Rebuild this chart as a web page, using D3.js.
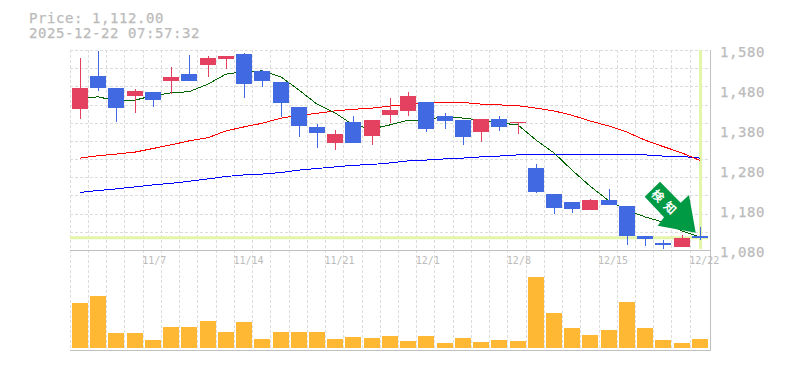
<!DOCTYPE html>
<html><head><meta charset="utf-8">
<script src="https://cdnjs.cloudflare.com/ajax/libs/d3/7.8.5/d3.min.js"></script>
<style>
html,body{margin:0;padding:0;background:#fff;overflow:hidden}
svg{display:block}
text{font-family:"DejaVu Sans Mono",monospace}
</style></head><body><div id="chart"></div>
<script>
const titleLines=["Price: 1,112.00","2025-12-22 07:57:32"];
const lastPrice=1112;
const opens =[1434,1516,1486,1466,1476,1504,1521,1544,1559,1571,1529,1501,1439,1389,1349,1401,1366,1419,1429,1451,1416,1406,1376,1409,1399,1286,1221,1201,1181,1206,1191,1116,1099,1089,1116];
const closes=[1486,1486,1436,1479,1456,1514,1504,1561,1566,1496,1504,1449,1391,1374,1371,1349,1406,1431,1466,1384,1404,1364,1409,1389,1401,1226,1186,1184,1206,1194,1116,1109,1094,1111,1112];
const highs =[1561,1580,1486,1484,1476,1539,1569,1566,1566,1574,1531,1501,1439,1396,1381,1416,1406,1461,1476,1451,1424,1406,1409,1416,1401,1296,1221,1201,1209,1234,1191,1116,1106,1119,1139];
const lows  =[1409,1479,1402,1424,1439,1471,1504,1514,1534,1461,1489,1414,1364,1336,1331,1349,1344,1399,1416,1376,1384,1344,1351,1379,1371,1224,1171,1174,1181,1194,1094,1091,1084,1089,1106];
const maShort=[1461,1464,1455,1456,1467,1474,1477,1496,1521,1527,1529,1514,1481,1446,1424,1394,1384,1394,1406,1406,1416,1411,1406,1399,1394,1356,1324,1281,1241,1204,1181,1164,1151,1129,1114];
const maMid  =[1311,1317,1321,1326,1335,1344,1354,1362,1379,1389,1398,1411,1418,1423,1429,1433,1436,1441,1446,1450,1451,1450,1446,1444,1442,1436,1429,1418,1404,1391,1376,1356,1340,1324,1305];
const maLong =[1225,1230,1234,1239,1244,1248,1253,1259,1265,1269,1271,1275,1281,1285,1289,1293,1295,1299,1304,1306,1309,1311,1314,1316,1319,1321,1321,1321,1321,1320,1319,1319,1316,1315,1311];
const volumes=[45,52,15,15,8,21,21,27,16,26,9,16,16,16,9,11,10,12,7,12,5,10,6,8,7,71,35,20,13,18,46,20,8,5,9];
const dateLabels={4:"11/7",9:"11/14",14:"11/21",19:"12/1",24:"12/8",29:"12/15",34:"12/22"};
const priceTicks=[1080,1180,1280,1380,1480,1580];
const arrowShape=[[-35.7,-51],[-51,-36],[-31.7,-15.4],[-38,-7],[0,0],[-6.7,-37.7],[-15,-30]];
const arrowLabel="検知";

const W=785,H=370;
const C={red:"#e4405f",blue:"#4169e1",vol:"#ffb833",axis:"#c0c0c0",grid:"#dcdcdc",text:"#bbbbbb",lime:"#e3f5a9",arrow:"#009944"};
const idx=d3.range(opens.length);
const x=d3.scaleBand().domain(idx).range([70.3,708.4]);
const y=d3.scaleLinear().domain([1080,1580]).range([250.5,50.5]);
const yv=d3.scaleLinear().domain([0,100]).range([348,248]);
const cx=i=>Math.round(x(i)+1.7)+8;

const svg=d3.select("#chart").append("svg").attr("width",W).attr("height",H);

// grid
const gridY=d3.range(12).map(i=>50.5+i*200/11);
svg.append("g").attr("shape-rendering","crispEdges").selectAll("line").data(gridY.slice(0,-1)).join("line")
  .attr("x1",70).attr("x2",710).attr("y1",d=>Math.round(d-.5)+.5).attr("y2",d=>Math.round(d-.5)+.5)
  .attr("stroke",C.grid).attr("stroke-dasharray","3,2");
svg.append("g").attr("shape-rendering","crispEdges").selectAll("line").data(idx).join("line")
  .attr("x1",i=>Math.floor(x(i))+.5).attr("x2",i=>Math.floor(x(i))+.5).attr("y1",50).attr("y2",350)
  .attr("stroke",C.grid).attr("stroke-dasharray","3,2");

// last price guides
svg.append("line").attr("x1",70).attr("x2",708).attr("y1",y(lastPrice)).attr("y2",y(lastPrice)).attr("stroke",C.lime).attr("stroke-width",3);
svg.append("line").attr("x1",cx(34)+.5).attr("x2",cx(34)+.5).attr("y1",50).attr("y2",249).attr("stroke",C.lime).attr("stroke-width",3);

// frame
const frame=svg.append("g").attr("stroke",C.axis).attr("shape-rendering","crispEdges");
frame.append("line").attr("x1",70).attr("x2",711).attr("y1",250.5).attr("y2",250.5);
frame.append("line").attr("x1",70).attr("x2",711).attr("y1",350.5).attr("y2",350.5);
frame.append("line").attr("x1",710.5).attr("x2",710.5).attr("y1",50).attr("y2",351);

// moving averages
const line=d3.line().x((d,i)=>cx(i)).y(d=>y(d));
[[maLong,"#0000ff"],[maMid,"#ff0000"],[maShort,"#006400"]].forEach(([s,c])=>{
  svg.append("path").datum(s).attr("d",line).attr("fill","none").attr("stroke",c).attr("stroke-width",1).attr("shape-rendering","crispEdges");
});

// candles
const col=i=>closes[i]>=opens[i]?C.red:C.blue;
const cg=svg.append("g").attr("shape-rendering","crispEdges");
cg.selectAll("line").data(idx).join("line")
  .attr("x1",i=>cx(i)+.5).attr("x2",i=>cx(i)+.5).attr("y1",i=>y(highs[i])).attr("y2",i=>y(lows[i])).attr("stroke",col);
cg.selectAll("rect").data(idx).join("rect")
  .attr("x",i=>cx(i)-8).attr("width",16)
  .attr("y",i=>Math.round(y(Math.max(opens[i],closes[i]))))
  .attr("height",i=>Math.max(1,Math.round(Math.abs(y(opens[i])-y(closes[i])))))
  .attr("fill",col);

// volume
svg.append("g").attr("shape-rendering","crispEdges").selectAll("rect").data(idx).join("rect")
  .attr("x",i=>cx(i)-8).attr("width",16).attr("y",i=>yv(volumes[i])).attr("height",i=>yv(0)-yv(volumes[i])).attr("fill",C.vol);

// arrow
const ax=cx(34)-4.3, ay=y(lastPrice)-5;
svg.append("path").attr("d",d3.line()(arrowShape.map(p=>[ax+p[0],ay+p[1]]))+"Z").attr("fill",C.arrow);
svg.append("text").attr("transform",`translate(${ax-30},${ay-29}) rotate(45)`)
  .attr("text-anchor","middle").attr("dy","0.36em").attr("fill","#fff")
  .style("font-family",'"Noto Sans CJK JP"').style("font-size","12px").style("font-weight","700").style("letter-spacing","5px").text(arrowLabel);

// axes
const axY=svg.append("g").attr("transform","translate(710,2)")
  .call(d3.axisRight(y).tickValues(priceTicks).tickFormat(d3.format(",")).tickSize(0).tickPadding(10));
axY.select(".domain").remove();
axY.selectAll("text").attr("fill",C.text).style("font-size","14px").style("letter-spacing","0.57px").attr("stroke",C.text).attr("stroke-width",0.25);
const axX=svg.append("g").attr("transform","translate(-1,250)")
  .call(d3.axisBottom(x).tickValues(Object.keys(dateLabels).map(Number)).tickFormat(d=>dateLabels[d]).tickSize(0).tickPadding(7));
axX.select(".domain").remove();
axX.selectAll("g.tick").attr("transform",d=>`translate(${x(d)},0)`);
axX.selectAll("text").attr("fill",C.text).attr("text-anchor","start").style("font-size","10px");

// header
svg.append("g").selectAll("text").data(titleLines).join("text")
  .attr("x",29).attr("y",(d,i)=>23+i*15).attr("fill",C.text).attr("stroke",C.text).attr("stroke-width",0.25)
  .style("font-size","14px").style("letter-spacing","0.57px").text(d=>d);
</script></body></html>
